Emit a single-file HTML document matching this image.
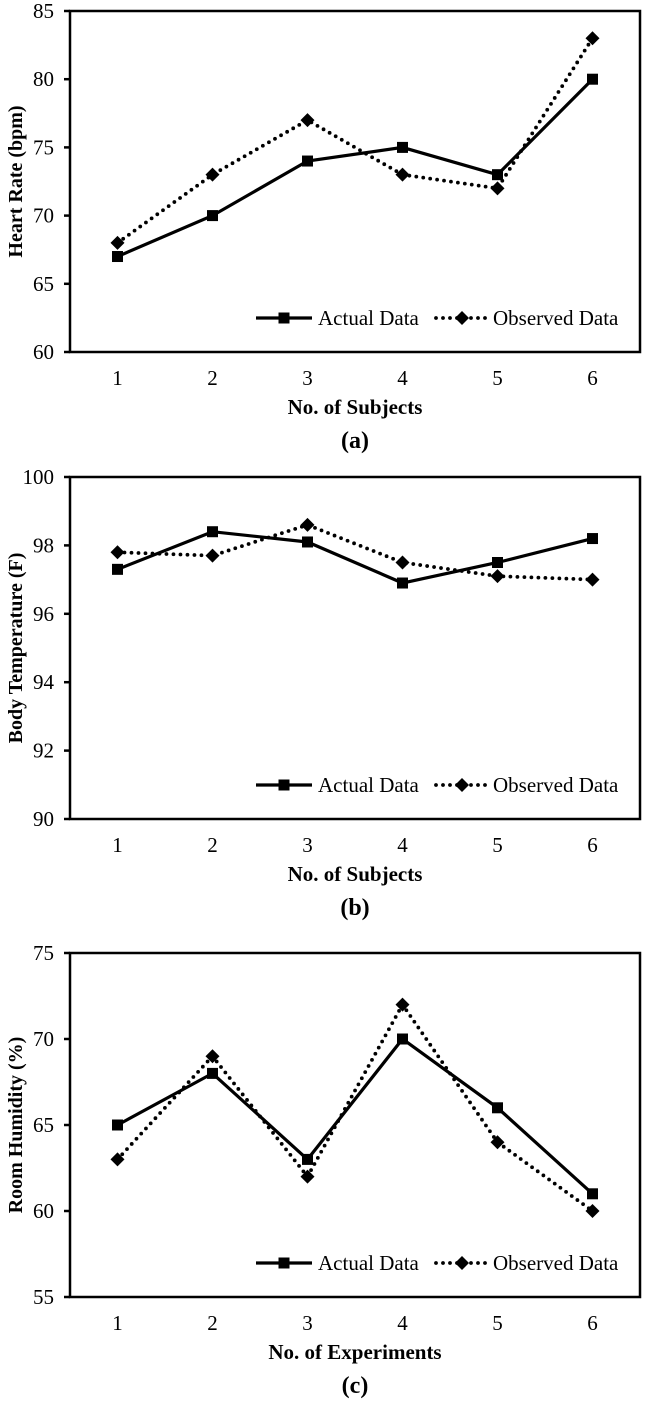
<!DOCTYPE html>
<html><head><meta charset="utf-8"><style>
html,body{margin:0;padding:0;background:#fff;}
svg{display:block;}
text{font-family:"Liberation Serif",serif;fill:#000;}
</style></head><body>
<svg id="fig" width="646" height="1402" viewBox="0 0 646 1402"></svg>
<script>
const categories = [1,2,3,4,5,6];
const hrActual = [67,70,74,75,73,80];
const hrObserved = [68,73,77,73,72,83];
const hrTicks = [60,65,70,75,80,85];
const btActual = [97.3,98.4,98.1,96.9,97.5,98.2];
const btObserved = [97.8,97.7,98.6,97.5,97.1,97.0];
const btTicks = [90,92,94,96,98,100];
const rhActual = [65,68,63,70,66,61];
const rhObserved = [63,69,62,72,64,60];
const rhTicks = [55,60,65,70,75];

const NS='http://www.w3.org/2000/svg';
const svg=document.getElementById('fig');
function mk(tag,attrs,parent){const e=document.createElementNS(NS,tag);for(const k in attrs)e.setAttribute(k,attrs[k]);(parent||svg).appendChild(e);return e;}

function chart(id,top,bottom,ticks,actual,observed,ytitle,xtitle,caption){
  const L=70,R=640;
  const g=mk('g',{});
  
  
  const ymin=ticks[0],ymax=ticks[ticks.length-1];
  const y=v=>bottom-(v-ymin)/(ymax-ymin)*(bottom-top);
  const step=(R-L)/categories.length;
  const x=i=>L+step*(i+0.5);
  ticks.forEach(t=>{
    const tk=mk('line',{x1:L-6,x2:L,y1:y(t),y2:y(t),stroke:'#000','stroke-width':2.5},g);
    
    
    const tl=mk('text',{x:L-16,y:y(t)+7,'text-anchor':'end','font-size':21},g);
    tl.textContent=t;
    
    
  });
  categories.forEach((c,i)=>{
    const tl=mk('text',{x:x(i),y:bottom+33,'text-anchor':'middle','font-size':21},g);
    tl.textContent=c;
    
    
  });
  const fr=mk('rect',{x:L,y:top,width:R-L,height:bottom-top,fill:'none',stroke:'#000','stroke-width':2.5},g);
  
  
  const pa=mk('polyline',{points:actual.map((v,i)=>x(i)+','+y(v)).join(' '),fill:'none',stroke:'#000','stroke-width':3.2},g);
  
  
  const po=mk('polyline',{points:observed.map((v,i)=>x(i)+','+y(v)).join(' '),fill:'none',stroke:'#000','stroke-width':3.8,'stroke-dasharray':'0 7','stroke-linecap':'round'},g);
  
  
  actual.forEach((v,i)=>{
    const m=mk('rect',{x:x(i)-5.5,y:y(v)-5.5,width:11,height:11,fill:'#000'},g);
    
    
  });
  observed.forEach((v,i)=>{
    const cx=x(i),cy=y(v);
    const m=mk('polygon',{points:`${cx},${cy-7} ${cx+7},${cy} ${cx},${cy+7} ${cx-7},${cy}`,fill:'#000'},g);
    
    
  });
  const ly=bottom-34;
  const lg=mk('g',{},g);
  
  
  mk('line',{x1:256,x2:312,y1:ly,y2:ly,stroke:'#000','stroke-width':3.2},lg);
  mk('rect',{x:278.5,y:ly-5.5,width:11,height:11,fill:'#000'},lg);
  const t1=mk('text',{x:318,y:ly+7,'font-size':21},lg);t1.textContent='Actual Data';
  
  
  mk('line',{x1:436,x2:488,y1:ly,y2:ly,stroke:'#000','stroke-width':3.8,'stroke-dasharray':'0 7','stroke-linecap':'round'},lg);
  mk('polygon',{points:`462,${ly-7} 469,${ly} 462,${ly+7} 455,${ly}`,fill:'#000'},lg);
  const t2=mk('text',{x:493,y:ly+7,'font-size':21},lg);t2.textContent='Observed Data';
  
  
  const yt=mk('text',{x:0,y:0,'text-anchor':'middle','font-size':20,'font-weight':'bold',transform:`translate(22,${(top+bottom)/2}) rotate(-90)`},g);
  yt.textContent=ytitle;
  
  
  const xt=mk('text',{x:(L+R)/2,y:bottom+62,'text-anchor':'middle','font-size':21,'font-weight':'bold'},g);
  xt.textContent=xtitle;
  
  
  const cp=mk('text',{x:(L+R)/2,y:bottom+96,'text-anchor':'middle','font-size':24,'font-weight':'bold'},g);
  cp.textContent=caption;
  
  
}
chart('heart-rate',11,352,hrTicks,hrActual,hrObserved,'Heart Rate (bpm)','No. of Subjects','(a)');
chart('body-temperature',477,819,btTicks,btActual,btObserved,'Body Temperature (F)','No. of Subjects','(b)');
chart('room-humidity',953,1297,rhTicks,rhActual,rhObserved,'Room Humidity (%)','No. of Experiments','(c)');
</script>
</body></html>
